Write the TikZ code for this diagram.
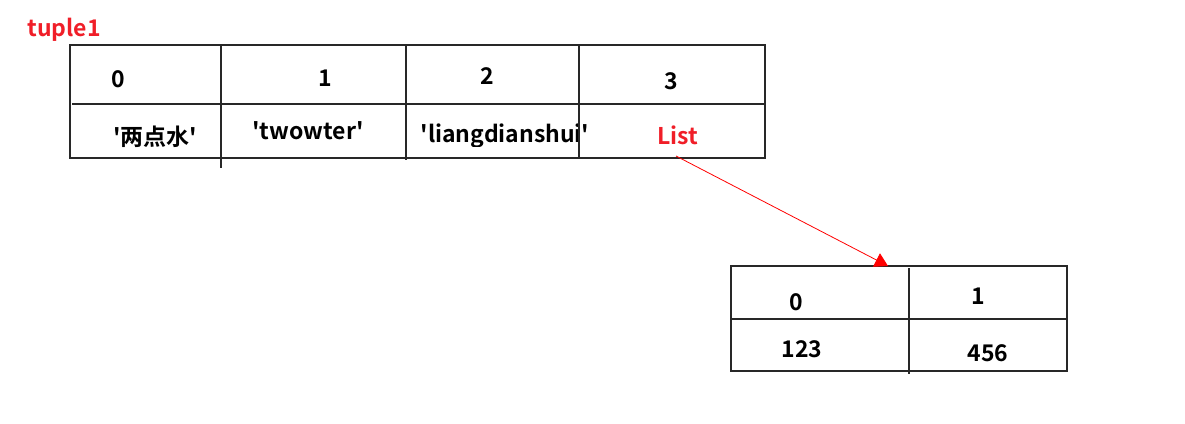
\documentclass[tikz,border=0pt]{standalone}
\usepackage{fontspec}
\setmainfont{Noto Sans CJK SC}[Ligatures=TeXOff, BoldFont={Noto Sans CJK SC Bold}]
\usetikzlibrary{arrows.meta}
\begin{document}
\begin{tikzpicture}[x=1pt,y=-1pt,
  txt/.style={font=\bfseries\fontsize{23}{23}\selectfont, inner sep=0pt, text=black},
  redtxt/.style={txt, text={rgb,255:red,240;green,30;blue,40}},
  grid/.style={line width=1.4pt, draw={rgb,255:red,40;green,40;blue,40}},
  link/.style={draw=red, line width=0.8pt, -{Triangle[length=13pt,width=15pt]}}]
\fill[white] (0,0) rectangle (1185,423);
\useasboundingbox (0,0) rectangle (1185,423);
% label
\node[redtxt, anchor=center] (lbl) at (64,30) {tuple1};
% table 1
\draw[grid] (70,45) rectangle (765,158);
\draw[grid] (72,104) -- (765,104);
\draw[grid] (221,45) -- (221,168);
\draw[grid] (406,45) -- (406,160);
\draw[grid] (579,45) -- (579,158);
\node[txt] (h0) at (118,79) {0};
\node[txt] (h1) at (325,78) {1};
\node[txt] (h2) at (487,76) {2};
\node[txt] (h3) at (671,81) {3};
\node[txt] (v0) at (155,137) {'两点水'};
\node[txt] (v1) at (308,131) {'twowter'};
\begin{scope}
\clip (407,110) rectangle (640,146.5);
\node[txt] (v2) at (505,136) {'liangdianshui'};
\end{scope}
\draw[grid] (579,104) -- (579,158);
\node[redtxt] (list) at (678,135) {List};
% table 2
\draw[grid] (731,266) rectangle (1067,371);
\draw[grid] (731,319) -- (1067,319);
\draw[grid] (909,268) -- (909,374);
\node[txt] (w0) at (796,302) {0};
\node[txt] (w1) at (978,296) {1};
\node[txt] (x0) at (802,349) {123};
\node[txt] (x1) at (988,353) {456};
\coordinate (tgt) at (888,266);
\draw[link] ([xshift=-2pt,yshift=-21pt]list.center) -- (tgt);
\end{tikzpicture}
\end{document}
